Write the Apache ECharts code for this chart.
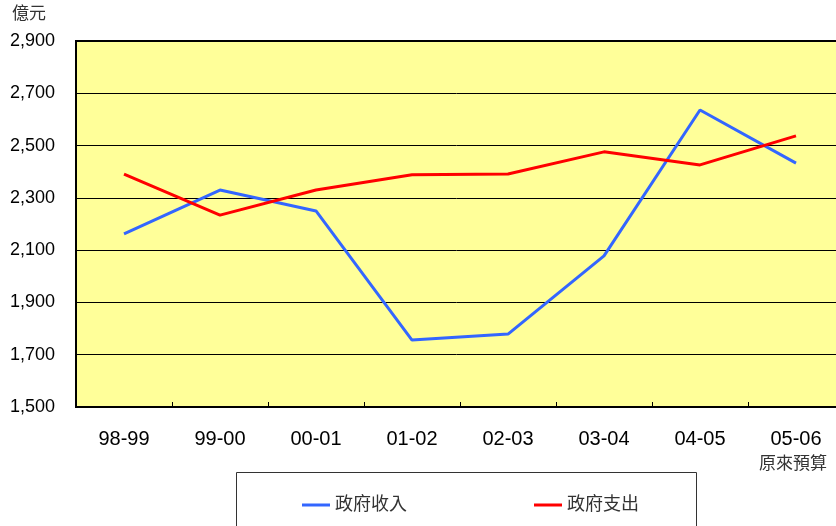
<!DOCTYPE html>
<html>
<head>
<meta charset="utf-8">
<script src="https://cdn.jsdelivr.net/npm/echarts@6/dist/echarts.min.js"></script>
<style>
  html, body { margin: 0; padding: 0; background: #fff; }
  #chart { width: 836px; height: 526px; }
</style>
</head>
<body>
<div id="chart"></div>
<script>
const years = ['98-99', '99-00', '00-01', '01-02', '02-03', '03-04', '04-05', '05-06']
const revenue = [2162, 2330, 2250, 1756, 1779, 2078, 2636, 2433]   // 政府收入
const spending = [2391, 2234, 2330, 2388, 2391, 2476, 2426, 2537]  // 政府支出
const unitLabel = '億元'
const lastNote = '原來預算'

const font = '"Liberation Sans", Arial, "Noto Sans CJK TC", sans-serif'

const chart = echarts.init(document.getElementById('chart'))

const option = {
  backgroundColor: '#ffffff',
  animation: false,
  textStyle: { fontFamily: font },
  grid: {
    left: 76,
    top: 41,
    width: 768,
    bottom: 119,
    outerBoundsMode: 'none',
    show: true,
    backgroundColor: '#FFFF99',
    borderColor: '#000',
    borderWidth: 2
  },
  graphic: [
    {
      type: 'text',
      left: 12,
      top: 6,
      style: { text: unitLabel, fontSize: 17, fill: '#333', fontFamily: font }
    },
    {
      type: 'rect',
      z: -1,
      shape: { x: 236.5, y: 472.5, width: 460, height: 80 },
      style: { fill: '#fff', stroke: '#333', lineWidth: 1 }
    }
  ],
  legend: [
    {
      data: ['政府收入'],
      left: 297,
      top: 491,
      icon: 'rect',
      itemWidth: 28,
      itemHeight: 3,
      itemGap: 5,
      textStyle: { fontSize: 18, color: '#333', fontFamily: font }
    },
    {
      data: ['政府支出'],
      left: 529,
      top: 491,
      icon: 'rect',
      itemWidth: 28,
      itemHeight: 3,
      textStyle: { fontSize: 18, color: '#333', fontFamily: font }
    }
  ],
  xAxis: {
    type: 'category',
    data: years,
    boundaryGap: true,
    axisLine: { lineStyle: { color: '#000', width: 2 } },
    axisTick: { show: true, inside: true, length: 5, interval: 0, lineStyle: { color: '#000' } },
    axisLabel: {
      interval: 0,
      color: '#000',
      fontSize: 20,
      margin: 20,
      lineHeight: 24,
      formatter: function (value, idx) {
        return idx === years.length - 1 ? value + '\n{s|' + lastNote + '}' : value
      },
      rich: {
        s: { fontSize: 17, color: '#333', lineHeight: 24, padding: [2, 6, 0, 0] }
      }
    },
    splitLine: { show: false }
  },
  yAxis: {
    type: 'value',
    min: 1500,
    max: 2900,
    interval: 200,
    axisLine: { show: true, lineStyle: { color: '#000', width: 2 } },
    axisTick: { show: false },
    axisLabel: {
      color: '#000',
      fontSize: 18,
      margin: 21,
      formatter: function (v) { return v.toLocaleString('en-US') }
    },
    splitLine: { show: true, lineStyle: { color: '#000', width: 1 } }
  },
  series: [
    {
      name: '政府收入',
      type: 'line',
      data: revenue,
      symbol: 'none',
      lineStyle: { color: '#3366FF', width: 3 },
      itemStyle: { color: '#3366FF' }
    },
    {
      name: '政府支出',
      type: 'line',
      data: spending,
      symbol: 'none',
      lineStyle: { color: '#FF0000', width: 3 },
      itemStyle: { color: '#FF0000' }
    }
  ]
}

chart.setOption(option)
</script>
</body>
</html>
